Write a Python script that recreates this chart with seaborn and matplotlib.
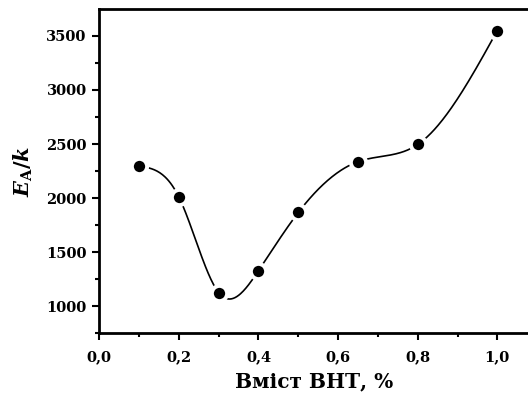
import numpy as np
import pandas as pd
import seaborn as sns
import matplotlib
matplotlib.use("Agg")
import matplotlib.pyplot as plt
from matplotlib.ticker import MultipleLocator, FuncFormatter

# Data
bht_content = [0.1, 0.2, 0.3, 0.4, 0.5, 0.65, 0.8, 1.0]
ea_k = [2296, 2010, 1127, 1330, 1868, 2337, 2496, 3549]

x_label = "Вміст ВНТ, %"
y_label = r"$E_{\mathrm{A}}/k$"

sns.set_theme(style="ticks")
plt.rcParams["font.family"] = ["DejaVu Serif"]
plt.rcParams["font.weight"] = "bold"
plt.rcParams["text.color"] = "black"
plt.rcParams["axes.labelcolor"] = "black"
plt.rcParams["mathtext.fontset"] = "custom"
plt.rcParams["mathtext.it"] = "DejaVu Serif:italic:bold"
plt.rcParams["mathtext.rm"] = "DejaVu Serif:bold"
plt.rcParams["mathtext.bf"] = "DejaVu Serif:bold"


def natural_cubic_spline(x, y, xs):
    x = np.asarray(x, float)
    y = np.asarray(y, float)
    n = len(x)
    h = np.diff(x)
    A = np.zeros((n, n))
    b = np.zeros(n)
    A[0, 0] = 1
    A[-1, -1] = 1
    for i in range(1, n - 1):
        A[i, i - 1] = h[i - 1]
        A[i, i] = 2 * (h[i - 1] + h[i])
        A[i, i + 1] = h[i]
        b[i] = 3 * ((y[i + 1] - y[i]) / h[i] - (y[i] - y[i - 1]) / h[i - 1])
    c = np.linalg.solve(A, b)
    out = np.empty_like(xs)
    for k, xv in enumerate(xs):
        i = min(max(np.searchsorted(x, xv) - 1, 0), n - 2)
        dx = xv - x[i]
        bi = (y[i + 1] - y[i]) / h[i] - h[i] * (2 * c[i] + c[i + 1]) / 3
        di = (c[i + 1] - c[i]) / (3 * h[i])
        out[k] = y[i] + bi * dx + c[i] * dx ** 2 + di * dx ** 3
    return out


xs = np.linspace(min(bht_content), max(bht_content), 400)
ys = natural_cubic_spline(bht_content, ea_k, xs)
curve = pd.DataFrame({"x": xs, "y": ys})
pts = pd.DataFrame({"x": bht_content, "y": ea_k})

fig = plt.figure(figsize=(5.28, 3.96), dpi=100)
ax = fig.add_axes([0.188, 0.158, 0.812, 0.8185])

sns.lineplot(data=curve, x="x", y="y", ax=ax, color="black", linewidth=1.2,
             sort=False, estimator=None)
sns.scatterplot(data=pts, x="x", y="y", ax=ax, color="black", s=120,
                edgecolor="white", linewidth=2.8, zorder=5)

ax.set_xlim(0, 1.077)
ax.set_ylim(750, 3745)
ax.xaxis.set_major_locator(MultipleLocator(0.2))
ax.xaxis.set_minor_locator(MultipleLocator(0.1))
ax.yaxis.set_major_locator(MultipleLocator(500))
ax.yaxis.set_minor_locator(MultipleLocator(250))
ax.xaxis.set_major_formatter(FuncFormatter(lambda v, p: f"{v:.1f}".replace(".", ",")))
ax.yaxis.set_major_formatter(FuncFormatter(lambda v, p: f"{int(round(v))}"))

for s in ["left", "bottom", "top"]:
    ax.spines[s].set_linewidth(2)
    ax.spines[s].set_color("black")
ax.spines["right"].set_visible(False)

ax.tick_params(which="major", direction="out", length=5, width=1.5,
               labelsize=10.5, pad=4, colors="black")
ax.tick_params(which="minor", direction="out", length=3, width=1.5, colors="black")
ax.tick_params(axis="x", which="major", pad=7)
for lab in ax.get_xticklabels() + ax.get_yticklabels():
    lab.set_fontweight("bold")

ax.set_xlabel(x_label, fontsize=14.5, fontweight="bold", labelpad=5)
ax.set_ylabel(y_label, fontsize=15, labelpad=8)

fig.savefig("out.png", dpi=100)
